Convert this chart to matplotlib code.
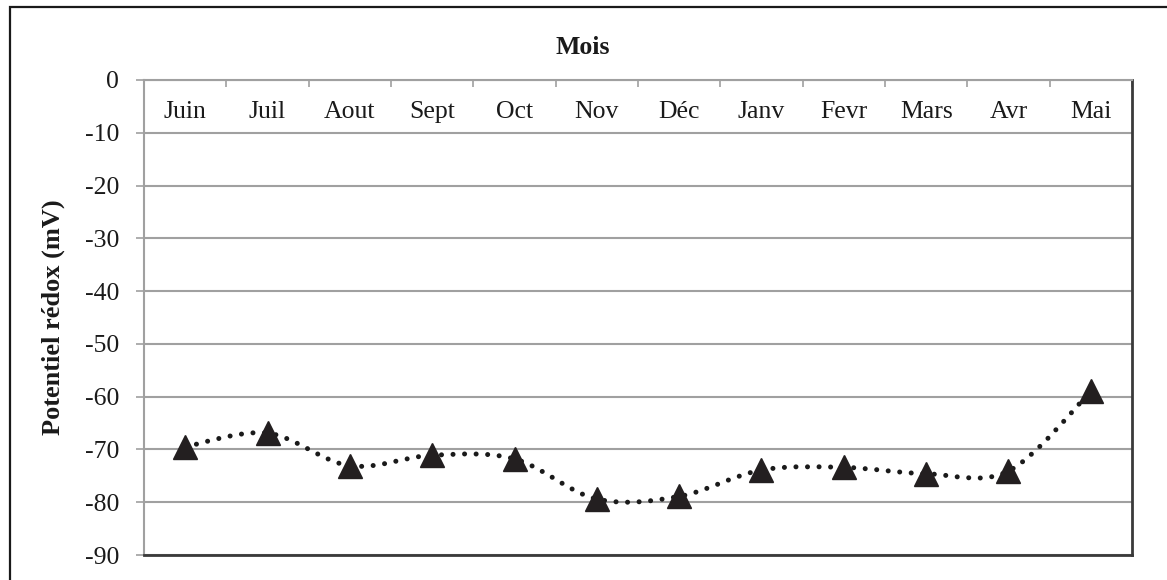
import matplotlib
matplotlib.use("Agg")
import matplotlib.pyplot as plt
from matplotlib.path import Path
from matplotlib.patches import PathPatch
from matplotlib.lines import Line2D
import numpy as np

# Monthly redox potential (mV)
months = ["Juin", "Juil", "Aout", "Sept", "Oct", "Nov", "Déc",
          "Janv", "Fevr", "Mars", "Avr", "Mai"]
redox = [-69.5, -66.9, -73.1, -71.1, -71.8, -79.4, -78.9,
         -73.9, -73.4, -74.6, -74.1, -59.0]
y_ticks = [0, -10, -20, -30, -40, -50, -60, -70, -80, -90]

W, H, DPI = 1167, 580, 100
FS = 18.5
plt.rcParams["font.family"] = ["Liberation Serif", "DejaVu Serif"]

fig = plt.figure(figsize=(W / DPI, H / DPI), dpi=DPI)
fig.patch.set_facecolor("white")

# chart frame (top and left edges)
fig.add_artist(Line2D([10 / W, 10 / W, 1.0], [0.0, (H - 7) / H, (H - 7) / H],
                      transform=fig.transFigure, color="#1a1a1a",
                      linewidth=1.6, solid_joinstyle="miter"))

ax = fig.add_axes([144 / W, (H - 555) / H, (1132 - 144) / W, (555 - 80) / H])
ax.set_xlim(-0.5, len(months) - 0.5)
ax.set_ylim(-90, 0)

grid_c = "#a0a0a0"
for s in ("top", "left"):
    ax.spines[s].set_color(grid_c)
    ax.spines[s].set_linewidth(1.5)
for s in ("bottom", "right"):
    ax.spines[s].set_color("#3a3a3a")
    ax.spines[s].set_linewidth(2.0)

# horizontal gridlines
ax.set_yticks(y_ticks)
ax.set_yticklabels([str(v) for v in y_ticks], fontsize=FS, color="#1a1a1a")
ax.yaxis.grid(True, color=grid_c, linewidth=1.5)
ax.set_axisbelow(True)
ax.tick_params(axis="y", direction="out", length=6, width=1.2,
               color=grid_c, pad=12)

# category boundaries marked on the top axis
x = np.arange(len(months))
ax.set_xticks(np.arange(len(months) + 1) - 0.5)
ax.tick_params(axis="x", which="major", top=True, bottom=False,
               labeltop=False, labelbottom=False, direction="in",
               length=5, width=1.2, color=grid_c)
for xi, name in zip(x, months):
    ax.text(xi, 1 - 32 / 475, name, transform=ax.get_xaxis_transform(),
            ha="center", va="center", fontsize=FS, color="#1a1a1a")

# smoothed dotted line through the monthly values (cubic Bezier segments)
pts = np.column_stack([x, redox]).astype(float)
verts = [tuple(pts[0])]
codes = [Path.MOVETO]
n = len(pts)
for i in range(n - 1):
    p0 = pts[i - 1] if i > 0 else pts[i]
    p1, p2 = pts[i], pts[i + 1]
    p3 = pts[i + 2] if i + 2 < n else pts[i + 1]
    c1 = p1 + (p2 - p0) / 6.0
    c2 = p2 - (p3 - p1) / 6.0
    verts += [tuple(c1), tuple(c2), tuple(p2)]
    codes += [Path.CURVE4] * 3
curve = PathPatch(Path(verts, codes), facecolor="none", edgecolor="#1a1a1a",
                  linewidth=3.6, linestyle=(0, (0.01, 2.3)), zorder=3)
curve.set_capstyle("round")
ax.add_patch(curve)

ax.plot(x, redox, linestyle="none", marker="^", markersize=17,
        color="#231f20", zorder=4)

# axis titles
fig.text(53 / W, (H - 317.5) / H, "Potentiel rédox (mV)", rotation=90,
         ha="center", va="center", fontsize=FS + 0.5, fontweight="bold",
         color="#1a1a1a")
fig.text(583 / W, (H - 47) / H, "Mois", ha="center", va="center",
         fontsize=FS, fontweight="bold", color="#1a1a1a")

fig.savefig("out.png", dpi=DPI, facecolor="white")
